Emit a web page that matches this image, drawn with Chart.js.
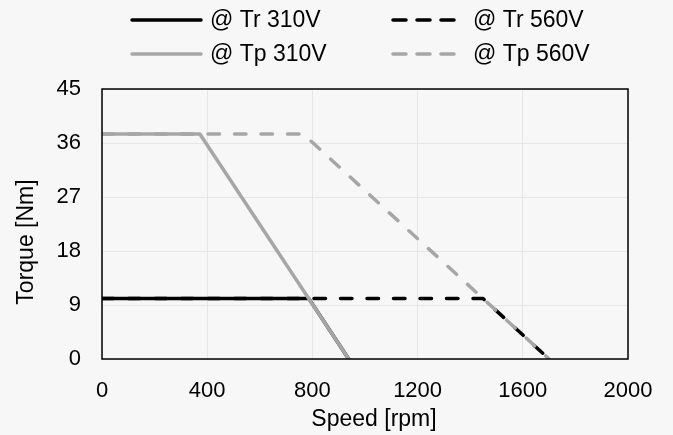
<!DOCTYPE html>
<html>
<head>
<meta charset="utf-8">
<script src="https://cdn.jsdelivr.net/npm/chart.js@4/dist/chart.umd.min.js"></script>
<style>
  html, body { margin: 0; padding: 0; background: #f7f7f7; }
  canvas { display: block; }
</style>
</head>
<body>
<canvas id="c" width="673" height="435"></canvas>
<script>
// ---- data ----
const seriesNames = ['@ Tr 310V', '@ Tr 560V', '@ Tp 310V', '@ Tp 560V'];
const tr310Speed = [0, 786, 938];
const tr310Torque = [10.1, 10.1, 0];
const tr560Speed = [0, 1448, 1700];
const tr560Torque = [10.1, 10.1, 0];
const tp310Speed = [0, 372, 938];
const tp310Torque = [37.5, 37.5, 0];
const tp560Speed = [0, 765, 1700];
const tp560Torque = [37.5, 37.5, 0];
const xTitle = 'Speed [rpm]';
const yTitle = 'Torque [Nm]';
const xMin = 0, xMax = 2000, xStep = 400;
const yMin = 0, yMax = 45, yStep = 9;

const BLACK = '#000000';
const GRAY = '#a6a6a6';
const DASH = [11.5, 15];
const FONT = '"Liberation Sans", Arial, sans-serif';

function pts(xs, ys) { return xs.map((x, i) => ({ x: x, y: ys[i] })); }

const datasets = [
  { label: seriesNames[0], data: pts(tr310Speed, tr310Torque), borderColor: BLACK, borderDash: [], order: 4 },
  { label: seriesNames[1], data: pts(tr560Speed, tr560Torque), borderColor: BLACK, borderDash: DASH, order: 3 },
  { label: seriesNames[2], data: pts(tp310Speed, tp310Torque), borderColor: GRAY, borderDash: [], order: 2 },
  { label: seriesNames[3], data: pts(tp560Speed, tp560Torque), borderColor: GRAY, borderDash: DASH, order: 1 }
].map(d => Object.assign(d, {
  borderWidth: 3.5, pointRadius: 0, fill: false, tension: 0,
  borderCapStyle: 'round', borderJoinStyle: 'round'
}));

const decor = {
  id: 'decor',
  beforeDraw(chart) {
    const ctx = chart.ctx;
    ctx.save();
    ctx.fillStyle = '#f7f7f7';
    ctx.fillRect(0, 0, chart.width, chart.height);
    ctx.restore();
  },
  afterDraw(chart) {
    const ctx = chart.ctx;
    const a = chart.chartArea;
    ctx.save();
    // frame
    ctx.strokeStyle = '#000';
    ctx.lineWidth = 1.5;
    ctx.strokeRect(a.left, a.top, a.right - a.left, a.bottom - a.top);
    // axis titles
    ctx.fillStyle = '#000';
    ctx.font = '23px ' + FONT;
    ctx.textAlign = 'center';
    ctx.textBaseline = 'alphabetic';
    ctx.fillText(xTitle, 374, 426);
    ctx.save();
    ctx.translate(33, 242);
    ctx.rotate(-Math.PI / 2);
    ctx.fillText(yTitle, 0, 0);
    ctx.restore();
    // legend (2 columns x 2 rows)
    const cols = [{ x0: 132, x1: 201, tx: 210 }, { x0: 393, x1: 463, tx: 473 }];
    const rows = [20, 54];
    chart.data.datasets.forEach((ds, i) => {
      const c = cols[i % 2], r = rows[Math.floor(i / 2)];
      ctx.save();
      ctx.strokeStyle = ds.borderColor;
      ctx.lineWidth = 3.5;
      ctx.lineCap = 'round';
      ctx.setLineDash(ds.borderDash.length ? [13, 11] : []);
      ctx.beginPath();
      ctx.moveTo(c.x0, r);
      ctx.lineTo(c.x1, r);
      ctx.stroke();
      ctx.restore();
      ctx.textAlign = 'left';
      ctx.textBaseline = 'middle';
      ctx.fillText(ds.label, c.tx, r + 1);
    });
    ctx.restore();
  }
};

new Chart(document.getElementById('c'), {
  type: 'line',
  data: { datasets: datasets },
  plugins: [decor],
  options: {
    responsive: false,
    animation: false,
    devicePixelRatio: 1,
    layout: { padding: { top: 89, left: 0, right: 45, bottom: 0 } },
    plugins: { legend: { display: false }, tooltip: { enabled: false } },
    scales: {
      x: {
        type: 'linear', min: xMin, max: xMax,
        ticks: { stepSize: xStep, color: '#000', font: { family: FONT, size: 22 }, padding: 19, maxRotation: 0,
                 callback: v => String(v) },
        grid: { color: '#e6e6e6', lineWidth: 1, drawTicks: false },
        border: { display: false },
        afterFit(s) { s.height = 76; }
      },
      y: {
        type: 'linear', min: yMin, max: yMax,
        ticks: { stepSize: yStep, color: '#000', font: { family: FONT, size: 22 }, padding: 21,
                 callback: v => String(v) },
        grid: { color: '#e6e6e6', lineWidth: 1, drawTicks: false },
        border: { display: false },
        afterFit(s) { s.width = 102; }
      }
    }
  }
});
</script>
</body>
</html>
